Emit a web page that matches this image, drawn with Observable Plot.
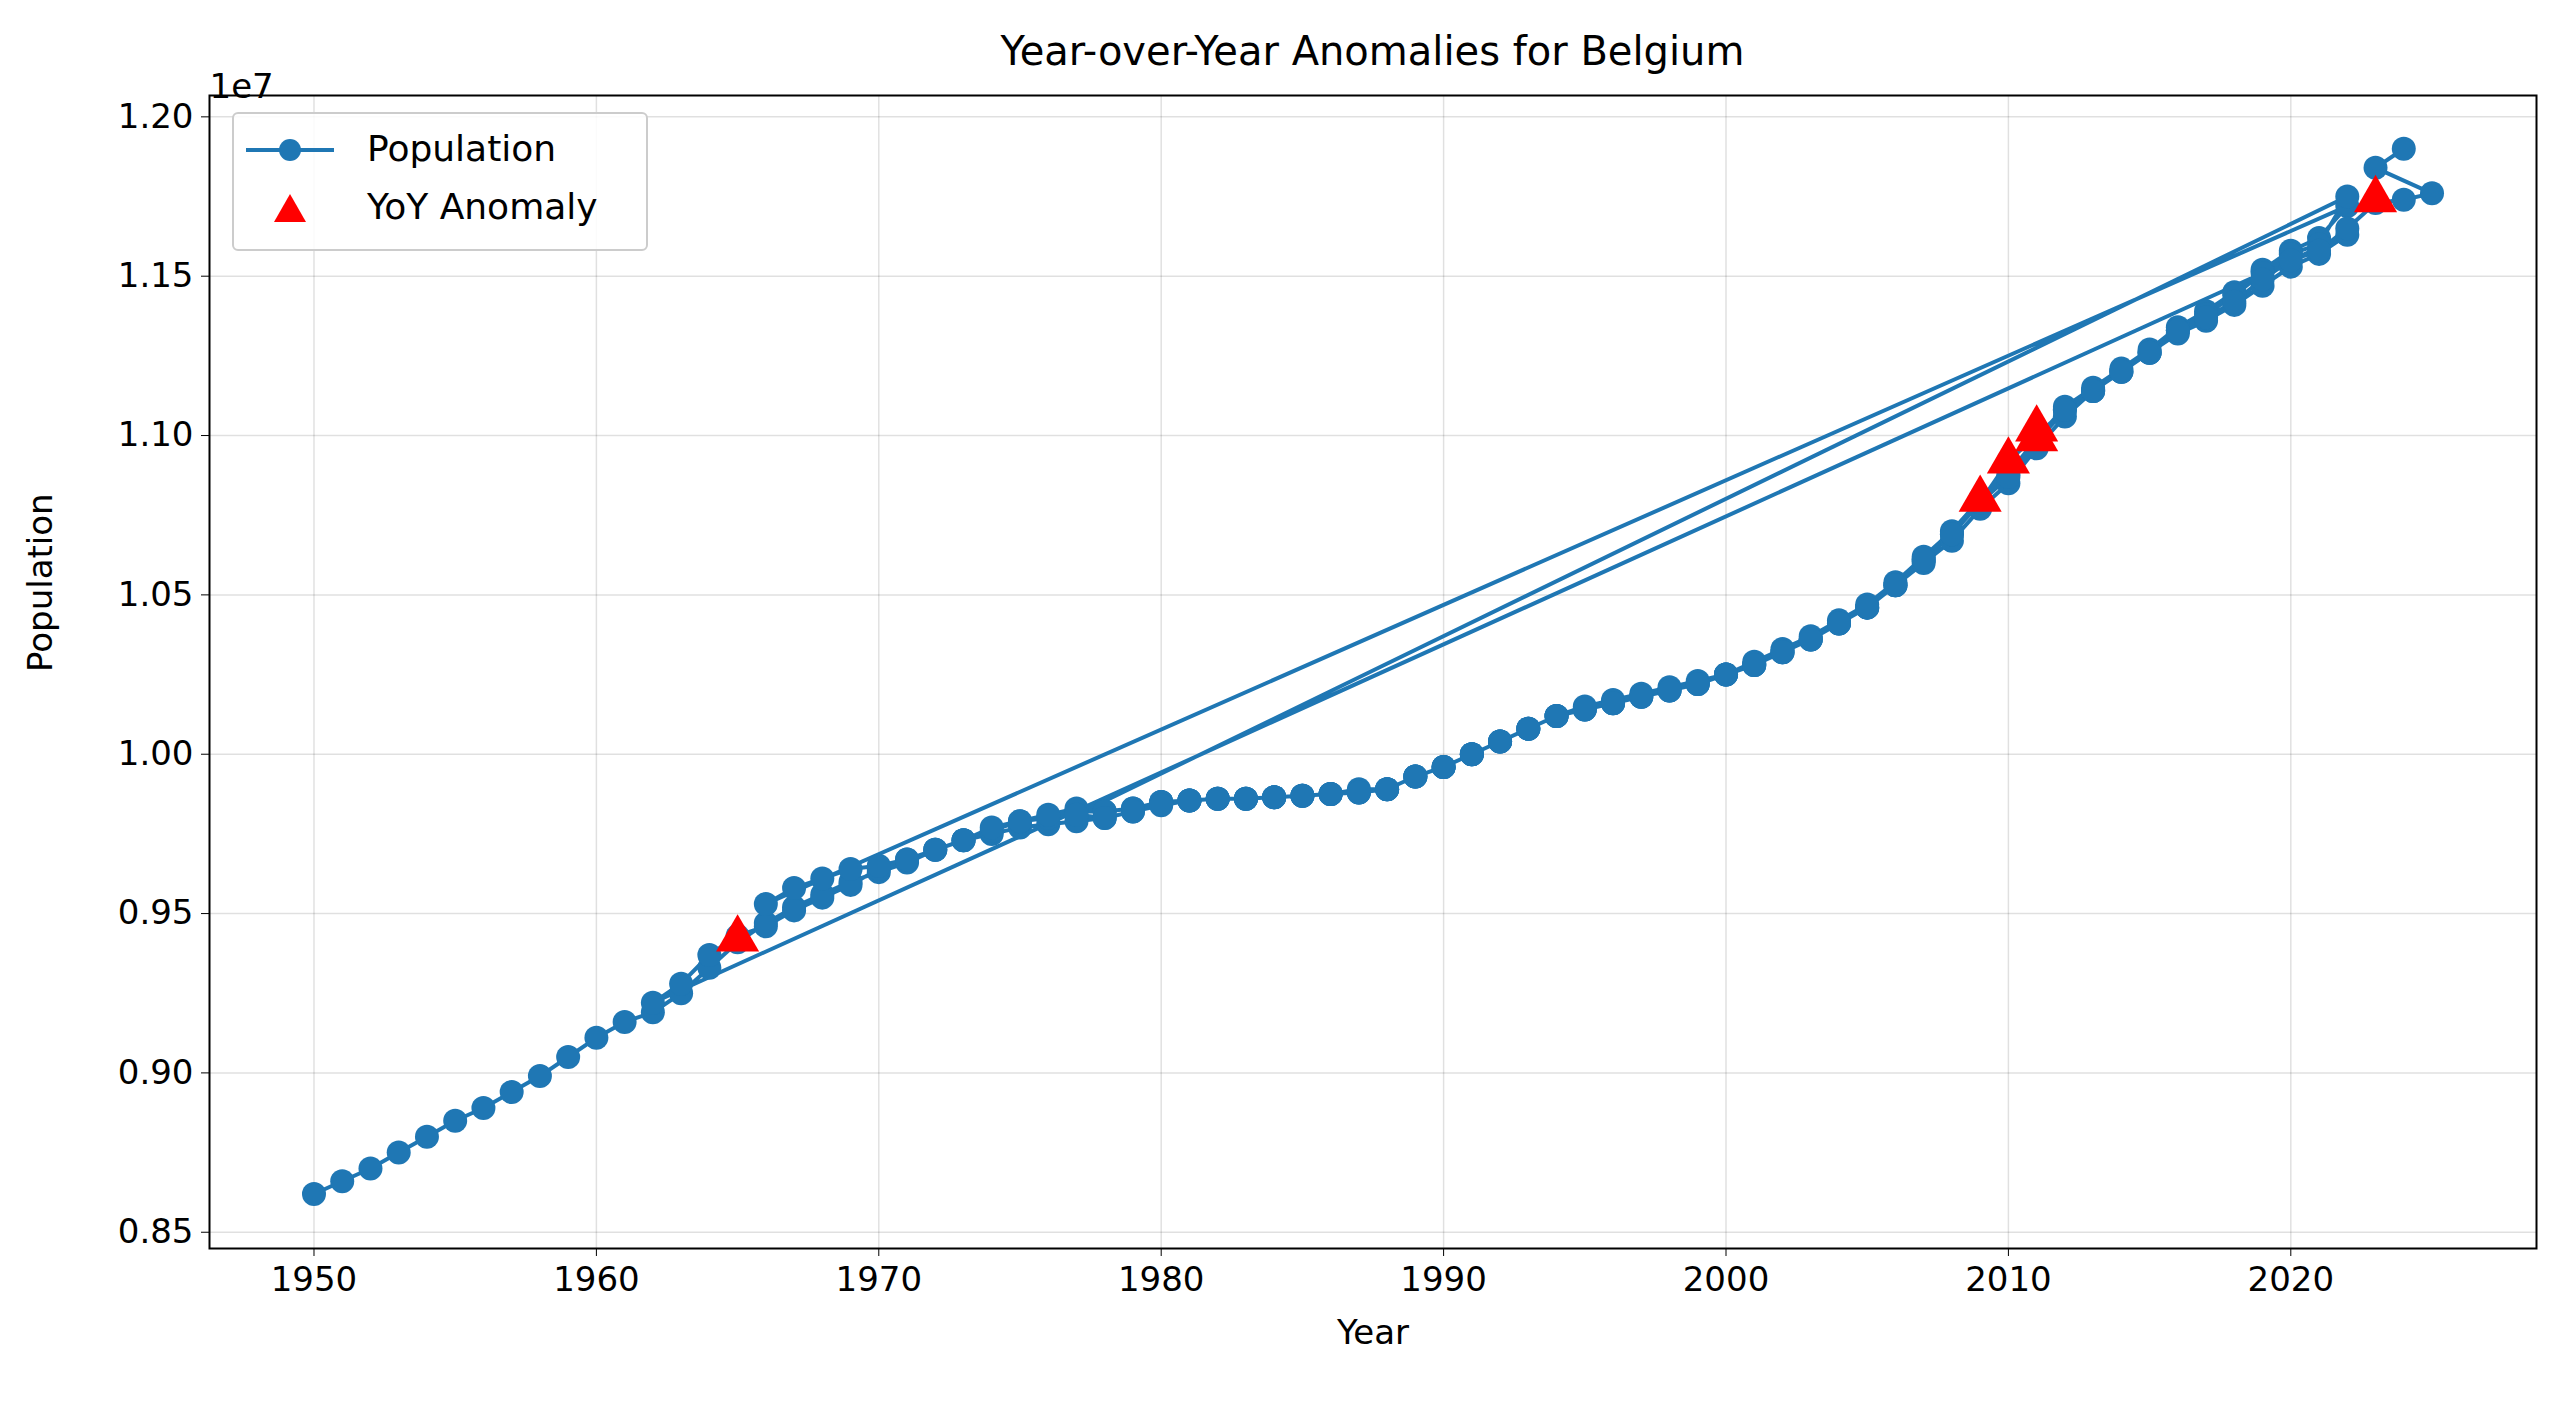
<!DOCTYPE html>
<html>
<head>
<meta charset="utf-8">
<script src="https://cdn.jsdelivr.net/npm/d3@7"></script>
<script src="https://cdn.jsdelivr.net/npm/@observablehq/plot@0.6"></script>
<style>
  body { margin: 0; background: #fff; font-family: "DejaVu Sans", sans-serif; }
  #wrap { position: relative; width: 2565px; height: 1407px; }
  #title { position: absolute; left: 209px; width: 2327px; top: 28px; text-align: center; font-size: 40px; }
  #legend { position: absolute; left: 232px; top: 112px; width: 412px; height: 135px; border: 2px solid #ccc; border-radius: 6px; background: rgba(255,255,255,0.85); font-size: 36px; }
  #legend div { position: absolute; left: 133px; }
  #chart { position: absolute; left: 0; top: 50px; }
</style>
</head>
<body>
<div id="wrap">
  <div id="title">Year-over-Year Anomalies for Belgium</div>
  <div id="chart"></div>
  <div id="legend">
    <svg width="130" height="135" style="position:absolute;left:0;top:0">
      <line x1="12" x2="100" y1="36" y2="36" stroke="#1f77b4" stroke-width="4"/>
      <circle cx="56" cy="36" r="11" fill="#1f77b4"/>
      <polygon points="56,80 40,108 72,108" fill="red"/>
    </svg>
    <div style="top:14px">Population</div>
    <div style="top:72px">YoY Anomaly</div>
  </div>
</div>
<script>
// segment 1: 1950-2022
const years1 = d3.range(1950, 2023)
const pop1 = [8.62,8.66,8.70,8.75,8.80,8.85,8.89,8.94,8.99,9.05,9.11,9.16,9.19,9.25,9.33,9.41,9.47,9.52,9.56,9.60,9.63,9.66,9.70,9.73,9.75,9.77,9.78,9.79,9.80,9.82,9.85,9.855,9.86,9.86,9.865,9.87,9.875,9.88,9.89,9.93,9.96,10.0,10.04,10.08,10.12,10.14,10.16,10.18,10.20,10.22,10.25,10.28,10.32,10.36,10.41,10.46,10.53,10.60,10.67,10.77,10.85,10.96,11.06,11.14,11.20,11.26,11.32,11.36,11.41,11.47,11.53,11.57,11.63]
// segment 2: 1962-2022
const years2 = d3.range(1962, 2023)
const pop2 = [9.22,9.28,9.37,9.43,9.46,9.51,9.55,9.59,9.64,9.67,9.70,9.73,9.76,9.79,9.80,9.82,9.82,9.83,9.85,9.855,9.86,9.86,9.865,9.87,9.875,9.89,9.89,9.93,9.96,10.0,10.04,10.08,10.12,10.15,10.17,10.19,10.21,10.23,10.25,10.29,10.33,10.37,10.42,10.47,10.54,10.62,10.70,10.80,10.88,10.99,11.09,11.15,11.21,11.27,11.34,11.39,11.45,11.52,11.58,11.62,11.72]
// segment 3: 1966-2022
const years3 = d3.range(1966, 2023)
const pop3 = [9.53,9.58,9.61,9.64,9.65,9.67,9.70,9.73,9.77,9.79,9.81,9.83,9.82,9.83,9.85,9.855,9.86,9.86,9.865,9.87,9.875,9.88,9.89,9.93,9.96,10.0,10.04,10.08,10.12,10.14,10.16,10.18,10.20,10.22,10.25,10.28,10.32,10.36,10.41,10.46,10.53,10.61,10.69,10.79,10.92,11.0,11.08,11.14,11.20,11.26,11.33,11.38,11.44,11.51,11.57,11.60,11.75]
// segment 4: 1977-2025
const years4 = d3.range(1977, 2026)
const pop4 = [9.81,9.80,9.82,9.84,9.855,9.86,9.86,9.865,9.87,9.875,9.88,9.89,9.93,9.96,10.0,10.04,10.08,10.12,10.14,10.16,10.18,10.20,10.22,10.25,10.28,10.32,10.36,10.41,10.46,10.53,10.61,10.69,10.79,10.87,10.98,11.08,11.14,11.20,11.26,11.33,11.37,11.42,11.49,11.55,11.58,11.65,11.73,11.74,11.76]
// segment 5: 2023-2024
const years5 = [2023, 2024]
const pop5 = [11.84, 11.90]
// anomalies
const anomYears = [1965, 2009, 2010, 2011, 2011, 2023]
const anomPop = [9.42, 10.80, 10.92, 10.99, 11.02, 11.74]

const rows = [[years1, pop1], [years2, pop2], [years3, pop3], [years4, pop4], [years5, pop5]]
  .flatMap(([ys, ps]) => ys.map((y, i) => ({year: y, pop: ps[i] * 1e6})))
const anomalies = anomYears.map((y, i) => ({year: y, pop: anomPop[i] * 1e6}))

const xt = d3.range(1950, 2021, 10)
const yt = d3.range(8.5e6, 12.01e6, 0.5e6)

const chart = Plot.plot({
  width: 2565,
  height: 1357,
  marginLeft: 209,
  marginRight: 29,
  marginTop: 45,
  marginBottom: 159,
  style: {fontSize: "34px", fontFamily: "DejaVu Sans, sans-serif", color: "#000"},
  x: {domain: [1946.3, 2028.7], label: null},
  y: {domain: [8.449e6, 12.067e6], label: null},
  marks: [
    Plot.gridX(xt, {stroke: "#000", strokeOpacity: 0.12, strokeWidth: 1.5}),
    Plot.gridY(yt, {stroke: "#000", strokeOpacity: 0.12, strokeWidth: 1.5}),
    Plot.line(rows, {x: "year", y: "pop", stroke: "#1f77b4", strokeWidth: 4}),
    Plot.dot(rows, {x: "year", y: "pop", fill: "#1f77b4", r: 12}),
    Plot.dot(anomalies, {x: "year", y: "pop", fill: "red", symbol: "triangle", r: 16}),
    Plot.frame({stroke: "#000", strokeWidth: 2}),
    Plot.axisX({ticks: xt, tickFormat: d => String(d), tickSize: 8, tickPadding: 10, fontSize: 34, label: null}),
    Plot.axisY({ticks: yt, tickFormat: d => (d / 1e7).toFixed(2), tickSize: 8, tickPadding: 8, fontSize: 34, label: null}),
    Plot.text(["Year"], {frameAnchor: "bottom", dy: 95, fontSize: 34}),
    Plot.text(["Population"], {frameAnchor: "left", dx: -168, rotate: -90, fontSize: 34}),
    Plot.text(["1e7"], {frameAnchor: "top-left", dy: -22, dx: 0, textAnchor: "start", fontSize: 34})
  ]
})
document.getElementById("chart").append(chart)
</script>
</body>
</html>
